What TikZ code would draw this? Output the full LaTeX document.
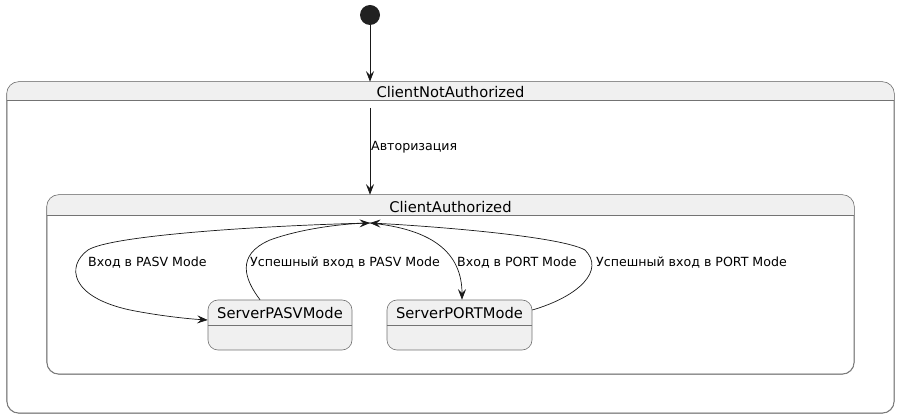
\documentclass[tikz,border=0pt]{standalone}
\usepackage{fontspec}
\setmainfont{DejaVu Sans}
\usetikzlibrary{arrows.meta}
\colorlet{state edge}{black!55}
\colorlet{state area}{black!6}
\colorlet{line ink}{black!90}
\tikzset{composite/.style={draw=state edge, fill=white, rounded corners=12pt, line width=0.6pt, inner sep=0pt},
    simplestate/.style={draw=state edge, fill=state area, rounded corners=10pt, line width=0.6pt, inner sep=0pt,
        minimum width=145pt, minimum height=50pt},
    statename/.style={font=\fontsize{14.7}{17}\selectfont, inner sep=0pt},
    edgelabel/.style={font=\fontsize{12.6}{14}\selectfont, anchor=west, inner sep=0pt},
    flow/.style={draw=line ink, line width=0.7pt, -{Stealth[length=10.5pt, width=8pt, inset=4pt]}}}

\begin{document}
\begin{tikzpicture}[x=1pt, y=-1pt]
    \useasboundingbox (0,0) rectangle (900,419);
    % states
    \node[circle, fill=black!87, minimum size=20pt, inner sep=0pt] (start) at (370,15) {};
    \node[composite, minimum width=887pt, minimum height=331pt] (outer) at (450.5,247.5) {};
    \begin{scope}
        \clip[rounded corners=12pt] (outer.south west) rectangle (outer.north east);
        \fill[state area] (outer.north west) rectangle ([yshift=-19pt]outer.north east);
    \end{scope}
    \draw[composite, fill=none] (outer.south west) rectangle (outer.north east);
    \draw[state edge, line width=0.6pt] ([yshift=-19pt]outer.north west) -- ([yshift=-19pt]outer.north east);
    \node[statename] (outertitle) at ([yshift=-10pt]outer.north) {ClientNotAuthorized};

    \node[composite, minimum width=807pt, minimum height=179pt] (inner) at (450.5,284.5) {};
    \begin{scope}
        \clip[rounded corners=12pt] (inner.south west) rectangle (inner.north east);
        \fill[state area] (inner.north west) rectangle ([yshift=-21pt]inner.north east);
    \end{scope}
    \draw[composite, fill=none] (inner.south west) rectangle (inner.north east);
    \draw[state edge, line width=0.6pt] ([yshift=-21pt]inner.north west) -- ([yshift=-21pt]inner.north east);
    \node[statename] (innertitle) at ([yshift=-12pt]inner.north) {ClientAuthorized};

    \node[simplestate, minimum width=144pt] (pasv) at (280,325) {};
    \draw[state edge, line width=0.6pt] ([yshift=-26pt]pasv.north west) -- ([yshift=-26pt]pasv.north east);
    \node[statename] (pasvtitle) at ([yshift=-13pt]pasv.north) {ServerPASVMode};
    \node[simplestate] (port) at (459.5,325) {};
    \draw[state edge, line width=0.6pt] ([yshift=-26pt]port.north west) -- ([yshift=-26pt]port.north east);
    \node[statename] (porttitle) at ([yshift=-13pt]port.north) {ServerPORTMode};

    \coordinate (authsrc) at (370,108);
    \coordinate (hub) at (370,223);

    % transitions
    \draw[flow] (start) -- (start |- outer.north);
    \draw[flow] (authsrc) -- (authsrc |- inner.north);
    \node[edgelabel] (authlabel) at (371,147) {Авторизация};

    \draw[flow] (hub) .. controls (250,226) and (110,236) .. (88,250)
        .. controls (66,266) and (70,297) .. (130,310)
        .. controls (160,316) and (190,319) .. ([yshift=5pt]pasv.west);
    \draw[flow] ([xshift=-20pt]pasv.north) .. controls (245,280) and (235,255) .. (270,240)
        .. controls (300,229) and (340,224) .. (hub);
    \draw[flow] (hub) .. controls (420,228) and ([xshift=2.5pt]port.north |- 0,245) .. ([xshift=2.5pt]port.north);
    \draw[flow] ([yshift=15pt]port.east) .. controls (580,296) and (605,270) .. (585,250)
        .. controls (560,236) and (430,226) .. (hub);

    \node[edgelabel] (pasvin) at (88,263) {Вход в PASV Mode};
    \node[edgelabel] (pasvok) at (250,263) {Успешный вход в PASV Mode};
    \node[edgelabel] (portin) at (457,263) {Вход в PORT Mode};
    \node[edgelabel] (portok) at (596,263) {Успешный вход в PORT Mode};
\end{tikzpicture}
\end{document}
